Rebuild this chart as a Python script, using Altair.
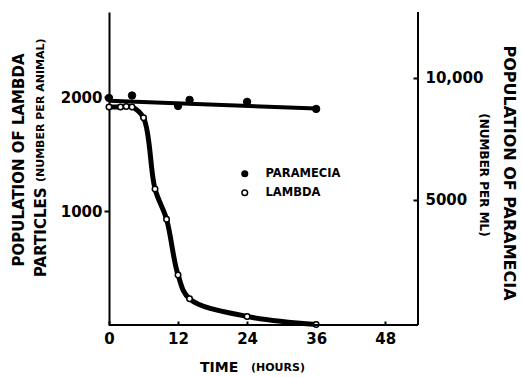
import altair as alt
import pandas as pd

# ---- data ----
lambda_hours = [0, 2, 3, 4, 6, 8, 10, 12, 14, 24, 36]
lambda_counts = [1916, 1916, 1920, 1916, 1820, 1195, 930, 440, 230, 75, 5]
param_hours = [0, 4, 12, 14, 24, 36]
param_counts = [9180, 9280, 8850, 9100, 9020, 8730]
trend_hours = [0, 36]
trend_counts = [9060, 8750]
x_ticks = [0, 12, 24, 36, 48]
left_ticks = [1000, 2000]
right_ticks = [5000, 10000]
series_names = ["PARAMECIA", "LAMBDA"]

W, H = 309, 313
FONT = "DejaVu Sans"

lam = pd.DataFrame({"hours": lambda_hours, "count": lambda_counts,
                    "series": ["LAMBDA"] * len(lambda_hours)})
par = pd.DataFrame({"hours": param_hours, "count": param_counts,
                    "series": ["PARAMECIA"] * len(param_hours)})
trend = pd.DataFrame({"hours": trend_hours, "count": trend_counts})
one = pd.DataFrame({"k": [0]})

x_enc = alt.X(
    "hours:Q",
    scale=alt.Scale(domain=[0, 53.7], nice=False, zero=False),
    axis=alt.Axis(values=x_ticks, title=None, domain=False, grid=False, format="d",
                  tickSize=4, offset=-4, labelPadding=6, labelFlush=False),
)

y_left = alt.Y(
    "count:Q",
    scale=alt.Scale(domain=[0, 2750], nice=False),
    axis=alt.Axis(orient="left", values=left_ticks, title=None, grid=False,
                  labelExpr="format(datum.value, 'd')",
                  tickSize=5, labelPadding=2, domainWidth=2),
)
y_right = alt.Y(
    "count:Q",
    scale=alt.Scale(domain=[-120, 12700], nice=False, zero=False),
    axis=alt.Axis(orient="right", values=right_ticks, title=None,
                  labelExpr="datum.value >= 10000 ? format(datum.value, ',') : format(datum.value, 'd')",
                  grid=False, domain=False, tickSize=5, offset=-5, labelPadding=7),
)

fill_enc = alt.Fill(
    "series:N",
    scale=alt.Scale(domain=series_names, range=["black", "white"]),
    legend=alt.Legend(
        title=None, orient="none", legendX=130, legendY=156, padding=0,
        symbolType="circle", symbolSize=32, symbolStrokeColor="black",
        symbolStrokeWidth=1.5, labelFont=FONT, labelFontSize=11.5,
        labelFontWeight="bold", labelColor="black", labelOffset=15, rowPadding=6,
    ),
)

lam_line = alt.Chart(lam).mark_line(color="black", strokeWidth=5, interpolate="catmull-rom").encode(
    x=x_enc, y=y_left)
lam_pts = alt.Chart(lam).mark_circle(size=30, stroke="black", strokeWidth=1.5, opacity=1).encode(
    x=x_enc, y=y_left, fill=fill_enc)
left_group = alt.layer(lam_line, lam_pts)

par_line = alt.Chart(trend).mark_line(color="black", strokeWidth=4).encode(x=x_enc, y=y_right)
par_pts = alt.Chart(par).mark_circle(size=55, stroke="black", strokeWidth=1, opacity=1).encode(
    x=x_enc, y=y_right, fill=fill_enc)
right_group = alt.layer(par_line, par_pts)

base = alt.Chart(one)
bottom_rule = base.mark_rule(color="black", strokeWidth=2).encode(
    x=alt.value(0), x2=alt.value(W), y=alt.value(H))
right_rule = base.mark_rule(color="black", strokeWidth=2).encode(
    x=alt.value(W), y=alt.value(0), y2=alt.value(H))


def label(text, x, y, size, angle=0, align="center", baseline="middle"):
    return base.mark_text(font=FONT, fontWeight="bold", fontSize=size, angle=angle,
                          align=align, baseline=baseline, color="black").encode(
        x=alt.value(x), y=alt.value(y), text=alt.value(text))


titles = [
    label("POPULATION OF LAMBDA", -90, 148, 15, angle=270),
    label("PARTICLES", -68, 265, 15, angle=270, align="left"),
    label("(NUMBER PER ANIMAL)", -68, 170, 11, angle=270, align="left"),
    label("POPULATION OF PARAMECIA", 400, 161, 16, angle=90),
    label("(NUMBER PER ML)", 375, 163, 12, angle=90),
    label("TIME", 91, 356, 14, align="left"),
    label("(HOURS)", 142, 356, 11, align="left"),
]

chart = alt.layer(
    alt.layer(left_group, right_group).resolve_scale(y="independent"),
    bottom_rule, right_rule, *titles,
).properties(
    width=W, height=H,
    autosize=alt.AutoSizeParams(type="none"),
    padding={"left": 109, "top": 12, "right": 104, "bottom": 52},
    background="white",
).configure_view(stroke=None).configure_axis(
    labelFont=FONT, labelFontSize=15, labelFontWeight="bold", labelColor="black",
    domainColor="black", tickColor="black", tickWidth=2, domainWidth=2,
)

chart.save("out.html", embed_options={"renderer": "svg", "actions": False})
